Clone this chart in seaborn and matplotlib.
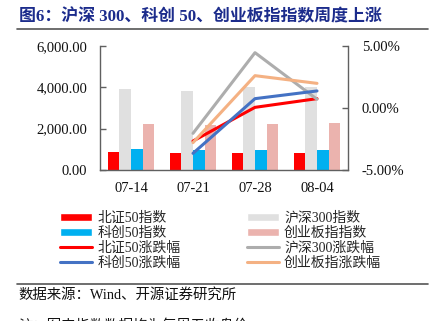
import matplotlib
matplotlib.use("Agg")
import matplotlib.pyplot as plt
import seaborn as sns
import pandas as pd
import numpy as np
from matplotlib.patches import Patch
from matplotlib.lines import Line2D
from matplotlib.ticker import FuncFormatter, FixedLocator

# ---------------- data ----------------
dates = ["07-14", "07-21", "07-28", "08-04"]
bz50_idx = [855, 820, 820, 820]
hs300_idx = [3910, 3830, 4006, 4020]
kc50_idx = [1010, 965, 965, 965]
cyb_idx = [2220, 2172, 2220, 2268]

chg_dates = ["07-21", "07-28", "08-04"]
bz50_chg = [-2.67, 0.04, 0.74]
hs300_chg = [-2.05, 4.44, 0.69]
kc50_chg = [-3.66, 0.74, 1.36]
cyb_chg = [-2.80, 2.59, 1.97]

bar_names = ["北证50指数", "沪深300指数", "科创50指数", "创业板指指数"]
bar_colors = ["#FF0000", "#E0E0E0", "#00B0F0", "#EBB3AE"]
line_names = ["北证50涨跌幅", "沪深300涨跌幅", "科创50涨跌幅", "创业板指涨跌幅"]
line_colors = ["#FF0000", "#ADADAD", "#4472C4", "#F4B183"]

title = "图6：沪深 300、科创 50、创业板指指数周度上涨"
source = "数据来源：Wind、开源证券研究所"
note = "注：图中指数数据均为每周五收盘价"

# ---------------- style ----------------
sns.set_theme(style="white")
plt.rcParams["font.family"] = ["Liberation Serif", "Noto Sans CJK SC"]
plt.rcParams["axes.unicode_minus"] = False

bar_df = pd.DataFrame({
    "date": np.repeat(dates, 4),
    "series": bar_names * len(dates),
    "value": np.ravel(np.column_stack([bz50_idx, hs300_idx, kc50_idx, cyb_idx])),
})
line_series = [bz50_chg, hs300_chg, kc50_chg, cyb_chg]
line_df = pd.concat([
    pd.DataFrame({"pos": [dates.index(d) for d in chg_dates], "chg": vals, "series": name})
    for name, vals in zip(line_names, line_series)
], ignore_index=True)

fig = plt.figure(figsize=(4.35, 3.21), dpi=100)
ax = fig.add_axes([100 / 435, 1 - 170 / 321, 248 / 435, 124.3 / 321])

sns.barplot(data=bar_df, x="date", y="value", hue="series", hue_order=bar_names,
            palette=bar_colors, width=0.75, gap=0, ax=ax, legend=False,
            saturation=1, edgecolor="none")
ax.set_ylim(0, 6000)
ax.yaxis.set_major_locator(FixedLocator([0, 2000, 4000, 6000]))
ax.yaxis.set_major_formatter(FuncFormatter(lambda v, p: f"{v:,.2f}"))
ax.set_xlim(-0.5, 3.5)
ax.set_xlabel("")
ax.set_ylabel("")

ax2 = ax.twinx()
sns.lineplot(data=line_df, x="pos", y="chg", hue="series", hue_order=line_names,
             palette=line_colors, linewidth=2.2, ax=ax2, legend=False)
ax2.set_ylim(-5, 5)
ax2.yaxis.set_major_locator(FixedLocator([-5, 0, 5]))
ax2.yaxis.set_major_formatter(FuncFormatter(lambda v, p: f"{v:.2f}%"))
ax2.set_xlim(-0.5, 3.5)
ax2.set_xlabel("")
ax2.set_ylabel("")

spine_c = "#606060"
for a in (ax, ax2):
    a.spines["top"].set_visible(False)
    for s in ["left", "right", "bottom"]:
        a.spines[s].set_color(spine_c)
        a.spines[s].set_linewidth(1.0)
ax.spines["right"].set_visible(False)
ax2.spines["left"].set_visible(False)
ax2.spines["bottom"].set_visible(False)

ax.tick_params(axis="y", direction="in", length=4, width=1, color=spine_c,
               pad=9, labelsize=10.5, labelcolor="#111111", left=True)
ax.tick_params(axis="x", direction="in", length=4, width=1, color=spine_c,
               pad=9, labelsize=10.5, labelcolor="#111111", bottom=True)
ax.set_xticks([0.5, 1.5, 2.5], minor=True)
ax.tick_params(axis="x", which="major", length=0)
ax.tick_params(axis="x", which="minor", direction="in", length=4, width=1, color=spine_c)
ax2.tick_params(axis="y", direction="in", length=4, width=1, color=spine_c,
                pad=10, labelsize=10.5, labelcolor="#111111", right=True)

# ---------------- legend ----------------
handles = [
    Patch(facecolor=bar_colors[0], label=bar_names[0]),
    Patch(facecolor=bar_colors[2], label=bar_names[2]),
    Line2D([], [], color=line_colors[0], lw=2.2, label=line_names[0]),
    Line2D([], [], color=line_colors[2], lw=2.2, label=line_names[2]),
    Patch(facecolor=bar_colors[1], label=bar_names[1]),
    Patch(facecolor=bar_colors[3], label=bar_names[3]),
    Line2D([], [], color=line_colors[1], lw=2.2, label=line_names[1]),
    Line2D([], [], color=line_colors[3], lw=2.2, label=line_names[3]),
]
fig.legend(handles=handles, ncol=2, loc="upper left",
           bbox_to_anchor=(60 / 435, 1 - 211.5 / 321), frameon=False,
           fontsize=10, handlelength=2.3, handleheight=0.55, handletextpad=0.4,
           labelspacing=0.12, columnspacing=4.75, borderaxespad=0, borderpad=0)

# ---------------- title, rules, source ----------------
fig.text(19 / 435, 1 - 17 / 321, title, fontsize=12.2, fontweight="bold",
         color="#1C2C8C", va="center", ha="left")
fig.add_artist(Line2D([17 / 435, 428 / 435], [1 - 29 / 321] * 2,
                      color="#555555", lw=1.2, transform=fig.transFigure))
fig.add_artist(Line2D([17 / 435, 428 / 435], [1 - 284 / 321] * 2,
                      color="#555555", lw=1.2, transform=fig.transFigure))
fig.text(18 / 435, 1 - 295 / 321, source, fontsize=10.4, color="#111111",
         va="center", ha="left")
fig.text(18 / 435, 1 - 318.5 / 321, note, fontsize=10.4, color="#111111",
         va="top", ha="left")

fig.savefig("out.png", dpi=100)
